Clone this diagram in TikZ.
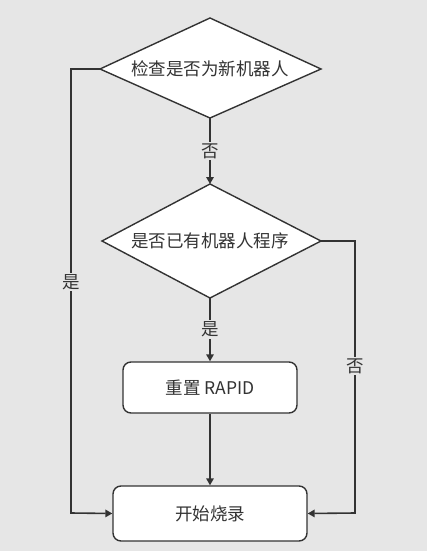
\documentclass[tikz,border=0pt]{standalone}
\usepackage{fontspec}
\setmainfont{Noto Sans CJK SC}
\usetikzlibrary{shapes.geometric,arrows.meta}
\definecolor{bg}{HTML}{E6E6E6}
\definecolor{ln}{HTML}{333333}
\begin{document}
\begin{tikzpicture}[x=1pt,y=-1pt,
  every node/.style={font=\fontsize{17.5}{19}\selectfont, text=ln},
  proc/.style={draw=ln, line width=1.4pt, fill=white, rounded corners=8pt, inner sep=0pt},
  conn/.style={draw=ln, line width=1.6pt, -{Triangle[length=7pt,width=7.5pt]}},
  lbl/.style={fill=bg, inner sep=1.5pt}]
\fill[bg] (0,0) rectangle (427,551);
\useasboundingbox (0,0) rectangle (427,551);
% diamonds drawn as paths
\draw[fill=white, draw=ln, line width=1.4pt] (210,18) -- (321,69) -- (210,118) -- (100,69) -- cycle;
\node[inner sep=0pt] (d1) at (210,69) {检查是否为新机器人};
\coordinate (d1t) at (210,18); \coordinate (d1b) at (210,118);
\coordinate (d1l) at (100,69); \coordinate (d1r) at (321,69);
\draw[fill=white, draw=ln, line width=1.4pt] (210,184) -- (321,241) -- (210,298) -- (102,241) -- cycle;
\node[inner sep=0pt] (d2) at (210,241) {是否已有机器人程序};
\coordinate (d2t) at (210,184); \coordinate (d2b) at (210,298);
\coordinate (d2l) at (102,241); \coordinate (d2r) at (321,241);
\node[proc, minimum width=174pt, minimum height=51pt] (r1) at (210,387.5) {重置 RAPID};
\node[proc, minimum width=194pt, minimum height=55pt] (r2) at (210,513.5) {开始烧录};
% connectors
\draw[conn] (d1b) -- (d2t) node[lbl, midway] {否};
\draw[conn] (d2b) -- (r1.north) node[lbl, pos=0.5] {是};
\draw[conn] (r1.south) -- (r2.north);
\draw[conn] (d1l) -- (71,69) -- (71,513) node[lbl, pos=0.48] {是} -- (r2.west);
\draw[conn] (d2r) -- (355,241) -- (355,513) node[lbl, pos=0.46] {否} -- (r2.east);
\end{tikzpicture}
\end{document}
